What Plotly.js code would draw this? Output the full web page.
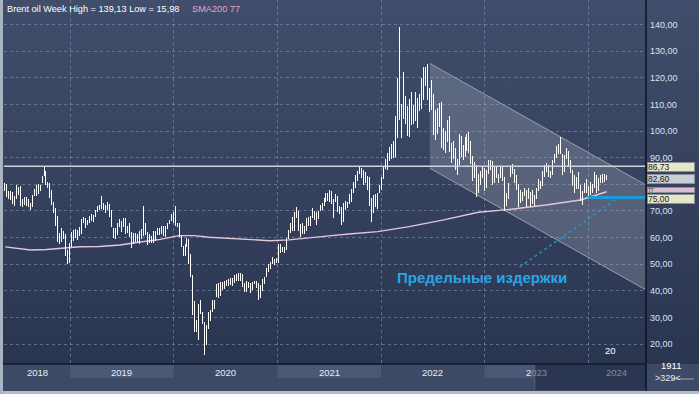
<!DOCTYPE html>
<html><head><meta charset="utf-8">
<script src="https://cdn.plot.ly/plotly-3.0.1.min.js"></script>
<style>
html,body{margin:0;padding:0;}
body{width:699px;height:394px;overflow:hidden;background:linear-gradient(180deg,#414e6b 0%,#2a3550 92%);}
#chart{width:699px;height:394px;}
#chart .scatterlayer .trace:nth-child(5) .js-line{shape-rendering:crispEdges;}
</style></head><body><div id="chart"></div><script>
// ---- data ----
const firstWeek = '2018-05-14';
const weekHigh = [
 // 2018
 80.5,80.2,77.5,77.4,77.0,75.7,79.9,78.9,79.4,74.5,75.2,75.3,74.6,73.0,75.9,78.1,79.7,80.1,79.6,83.0,86.7,84.8,81.0,80.6,77.9,73.4,71.2,67.9,61.8,63.7,62.6,61.3,55.4,
 // 2019
 58.0,62.2,63.0,63.1,63.0,63.8,66.8,67.8,67.3,66.7,68.1,68.7,68.6,70.3,71.9,72.3,75.6,73.0,72.1,73.2,72.6,70.3,63.4,63.4,65.3,67.0,66.3,67.5,67.2,64.4,65.5,62.0,61.8,61.8,61.3,62.5,63.3,71.95,65.3,62.0,61.5,60.6,62.3,62.4,63.5,63.4,64.2,64.3,64.5,65.6,66.7,68.7,
 // 2020
 69.5,71.75,65.6,65.6,60.6,56.9,57.6,59.8,59.5,53.9,45.9,36.0,29.0,35.0,36.4,32.2,28.2,27.0,31.9,32.9,36.5,36.4,42.4,43.1,43.3,43.2,43.6,44.0,44.5,44.8,44.8,46.0,46.2,46.5,46.6,46.4,42.8,43.8,43.2,43.0,43.4,43.8,43.6,42.8,42.2,44.3,45.2,48.7,49.9,50.8,52.5,51.9,52.2,
 // 2021
 57.4,57.4,56.6,56.6,59.8,62.8,65.5,67.7,69.6,71.4,70.0,65.0,65.4,64.5,67.4,67.7,68.1,71.2,70.0,69.5,69.8,72.3,73.1,75.0,76.6,76.6,77.8,77.3,74.5,76.3,75.6,72.0,71.5,72.8,73.6,73.3,76.2,78.3,80.8,83.5,85.1,86.7,86.1,85.5,84.6,83.0,82.7,74.9,76.1,76.2,76.6,79.7,
 // 2022
 82.8,86.7,89.5,91.7,94.0,95.0,96.2,105.8,119.8,139.13,110.0,122.0,113.0,109.4,112.1,114.8,109.9,114.5,112.3,113.9,120.0,124.0,124.0,125.2,116.0,119.2,114.0,108.0,108.5,110.7,111.0,101.0,99.9,104.0,105.6,95.5,96.1,93.6,89.4,98.8,98.0,94.7,97.8,98.9,99.5,96.2,90.5,88.5,87.4,83.8,85.1,86.4,
 // 2023
 86.0,85.3,89.1,89.1,88.8,86.9,86.9,84.0,86.8,86.8,82.8,76.9,80.4,86.4,87.5,85.9,83.3,80.0,77.7,77.2,78.6,77.7,78.7,77.2,77.7,75.9,78.7,81.8,81.1,84.9,87.1,88.1,87.2,84.9,89.2,91.2,94.3,95.1,97.7,91.5,91.0,93.8,92.4,89.0,85.5,83.3,82.9,84.6,79.7,77.4,80.6,81.9,
 // 2024
 79.2,80.8,80.0,84.5,83.4,82.4,83.6,84.0,84.0,83.5
];
const weekLow = [
 // 2018
 77.5,75.3,74.4,74.2,72.4,71.9,74.5,76.1,71.8,71.3,72.3,71.8,71.4,70.3,71.6,75.5,75.6,76.5,77.5,80.4,83.0,79.8,78.5,74.8,72.2,69.1,64.5,58.4,57.5,58.4,59.4,53.1,50.0,
 // 2019
 50.4,56.3,58.6,59.7,59.2,60.6,61.3,65.6,63.7,64.8,65.4,66.1,66.0,67.6,69.4,70.3,70.8,70.2,69.2,70.5,67.6,64.0,60.0,59.5,60.9,63.8,61.9,63.8,61.5,61.8,60.1,55.9,57.7,58.4,58.4,57.6,59.5,60.7,61.1,57.1,57.9,57.9,57.9,58.7,60.9,61.0,61.3,60.5,60.1,63.3,65.0,66.2,
 // 2020
 65.6,64.3,63.8,60.2,56.5,53.0,53.1,56.3,49.9,45.2,31.0,24.5,24.6,21.65,31.2,27.7,15.98,19.8,25.5,28.6,32.0,33.2,37.5,37.3,38.2,40.2,40.5,41.8,41.8,42.0,41.8,43.0,43.5,43.8,43.5,41.5,39.4,39.4,41.2,39.0,40.4,42.4,41.2,36.6,37.3,39.9,42.6,45.0,46.9,48.3,50.0,49.6,50.4,
 // 2021
 50.6,54.3,54.4,54.2,55.3,59.5,61.7,62.3,62.6,67.4,62.5,60.3,61.5,61.3,62.4,64.4,64.3,67.3,66.4,64.6,66.9,69.8,70.5,71.7,73.4,73.8,73.3,72.7,67.4,73.3,69.7,68.9,64.6,66.0,70.4,71.0,72.6,73.5,76.9,78.6,81.2,83.8,82.5,79.8,80.6,78.0,72.0,65.7,69.3,71.4,70.7,76.9,
 // 2022
 78.0,81.8,85.8,85.3,88.7,89.6,89.8,90.1,97.5,104.0,97.4,104.4,102.6,98.0,97.6,102.3,102.5,103.7,101.1,107.4,108.3,111.7,117.0,111.5,107.1,108.0,98.5,96.6,99.0,101.5,93.7,92.8,91.6,95.9,92.2,88.0,89.6,85.4,83.6,87.3,90.4,89.1,90.1,92.5,91.6,87.6,81.2,82.5,75.1,76.8,79.7,82.4,
 // 2023
 77.6,78.7,83.7,85.3,79.8,80.3,82.5,80.3,82.4,81.2,70.1,71.7,74.5,82.7,83.8,80.4,77.7,71.4,73.0,73.7,75.5,71.4,74.4,71.6,72.5,71.8,74.6,77.4,78.4,79.4,82.7,84.6,82.7,82.3,83.5,88.1,89.7,91.5,91.5,83.4,84.5,89.6,86.3,84.2,79.3,76.6,78.4,78.4,73.8,72.3,76.6,76.8,
 // 2024
 75.5,75.9,76.9,78.6,76.7,77.3,80.6,80.6,81.0,81.6
];
const smaDates = ['2018-05-17','2018-08-15','2018-10-10','2018-12-05','2019-02-05','2019-04-15','2019-06-25','2019-09-05','2019-11-15','2020-01-20','2020-03-15','2020-05-05','2020-07-15','2020-09-25','2020-12-05','2021-02-10','2021-04-20','2021-07-01','2021-09-10','2021-12-20','2022-04-10','2022-08-10','2022-12-10','2023-04-05','2023-08-05','2023-12-05','2024-03-06'];
const smaValues = [56.5,55.3,55.5,56.0,56.5,56.6,57.2,58.3,59.3,60.7,60.7,60.1,59.7,59.3,58.8,59.1,59.7,60.6,61.3,62.2,64.1,66.6,69.5,70.6,72.2,74.1,77.2];
const resistanceLevel = 86.73;
const lastPrice = 82.60;
const smaLast = 77;
const costLevel = 75.00;
const channelDates = ['2022-06-22','2024-07-23'];
const channelUpper = [125.4, 79.7];
const channelLower = [86.0, 40.3];
const costLineDates = ['2024-01-01','2024-07-23'];
const pointerDates = ['2023-05-05','2024-04-14'];
const pointerValues = [48.9, 74.8];
const yearStarts = ['2019-01-01','2020-01-01','2021-01-01','2022-01-01','2023-01-01','2024-01-01'];
const yearLabels = ['2018','2019','2020','2021','2022','2023','2024'];
const yearLabelDates = ['2018-09-08','2019-07-02','2020-07-02','2021-07-02','2022-07-02','2023-07-02','2024-04-11'];
const yTicks = [20,30,40,50,60,70,80,90,100,110,120,130,140];
// the 80,00 label is hidden behind the price boxes in the reference
const yTickText = ['20,00','30,00','40,00','50,00','60,00','70,00','','90,00','100,00','110,00','120,00','130,00','140,00'];
const xRange = ['2018-05-13','2024-07-23'];

// ---- build ----
const weekDates = [];
const t0 = Date.parse(firstWeek + 'T00:00:00Z');
for (let i = 0; i < weekHigh.length; i++) {
  weekDates.push(new Date(t0 + i * 7 * 864e5).toISOString().slice(0, 10));
}
const barX = [], barY = [];
weekDates.forEach((d, i) => { barX.push(d, d, null); barY.push(weekLow[i], weekHigh[i], null); });

const traces = [
  {type:'scatter', mode:'lines', x:[channelDates[0],channelDates[1],channelDates[1],channelDates[0]],
   y:[channelUpper[0],channelUpper[1],channelLower[1],channelLower[0]], fill:'toself',
   fillcolor:'rgba(190,198,212,0.25)', line:{width:0}, hoverinfo:'skip'},
  {type:'scatter', mode:'lines', x:channelDates, y:channelUpper, line:{color:'rgba(165,172,186,0.85)', width:1}, hoverinfo:'skip'},
  {type:'scatter', mode:'lines', x:channelDates, y:channelLower, line:{color:'rgba(165,172,186,0.85)', width:1}, hoverinfo:'skip'},
  {type:'scatter', mode:'lines', x:smaDates, y:smaValues, line:{color:'#e4c6da', width:1.4}, hoverinfo:'skip'},
  {type:'scatter', mode:'lines', x:barX, y:barY, line:{color:'#ffffff', width:1}, connectgaps:false, hoverinfo:'skip'},
  {type:'scatter', mode:'lines', x:pointerDates, y:pointerValues, line:{color:'#1f9ad8', width:1.3, dash:'dot'}, hoverinfo:'skip'},
  {type:'scatter', mode:'lines', x:costLineDates, y:[costLevel,costLevel], line:{color:'#1f9ad8', width:3}, hoverinfo:'skip', cliponaxis:false}
];

const W = 642, H = 364;
const px = v => v / W, py = v => v / H;
const grid = 'rgba(140,155,185,0.55)';
const shapes = [
  {type:'line', xref:'paper', yref:'y', x0:0, x1:1, y0:resistanceLevel, y1:resistanceLevel, line:{color:'#cdd2dc', width:1.5}},
  // x-axis strip
  {type:'rect', xref:'paper', yref:'paper', x0:px(-4), x1:1, y0:py(-27), y1:0, fillcolor:'#3d4a66', line:{width:0}},
  {type:'rect', xref:'x', yref:'paper', x0:'2019-01-01', x1:'2020-01-01', y0:py(-14), y1:py(-1), fillcolor:'#4b5875', line:{width:0}},
  {type:'rect', xref:'x', yref:'paper', x0:'2021-01-01', x1:'2022-01-01', y0:py(-14), y1:py(-1), fillcolor:'#4b5875', line:{width:0}},
  {type:'rect', xref:'x', yref:'paper', x0:'2023-01-01', x1:'2024-01-01', y0:py(-14), y1:py(-1), fillcolor:'#4b5875', line:{width:0}},
  {type:'rect', xref:'x', yref:'paper', x0:'2023-06-27', x1:xRange[1], y0:py(-26), y1:py(-1), fillcolor:'#2b3651', line:{width:0}},
  {type:'line', xref:'x', yref:'paper', x0:'2023-06-27', x1:'2023-06-27', y0:py(-26), y1:py(-1), line:{color:'#56627c', width:1}},
  {type:'line', xref:'paper', yref:'paper', x0:px(-4), x1:1, y0:0, y1:0, line:{color:'#111827', width:1.5}},
  // right panel bottom
  {type:'rect', xref:'paper', yref:'paper', x0:1, x1:1+px(53), y0:py(-27), y1:0, fillcolor:'#3d4a66', line:{width:0}},
  {type:'line', xref:'paper', yref:'paper', x0:1+px(26), x1:1+px(48), y0:py(-15), y1:py(-15), line:{color:'#9aa6ba', width:1}},
  {type:'line', xref:'paper', yref:'paper', x0:1, x1:1, y0:py(-27), y1:1, line:{color:'#0d1320', width:1.5}},
  // outer border
  {type:'rect', xref:'paper', yref:'paper', x0:px(-4), x1:1+px(53), y0:py(-30), y1:py(-27), fillcolor:'#b4bcc8', line:{width:0}},
  {type:'rect', xref:'paper', yref:'paper', x0:px(-4), x1:px(-1), y0:py(-30), y1:1, fillcolor:'#a9b3c2', line:{width:0}}
];

const boxFont = {size:9, color:'#1a1a1a', family:'Liberation Sans, Arial, sans-serif'};
const box = (val, txt, bg, h, fs, ys) => ({xref:'paper', yref:'y', x:1, y:val, xanchor:'left', yanchor:'middle', xshift:1, yshift:ys||0,
  text:txt, showarrow:false, bgcolor:bg, bordercolor:'#8a8f98', borderwidth:1, borderpad:0, width:46, height:h, align:'left',
  font:Object.assign({}, boxFont, {size:fs})});

const annotations = [
  {xref:'paper', yref:'paper', x:px(1), y:1-py(9), xanchor:'left', yanchor:'middle', showarrow:false,
   text:'Brent oil Week High = 139,13 Low = 15,98', font:{size:9.2, color:'#ffffff'}},
  {xref:'paper', yref:'paper', x:px(186), y:1-py(9), xanchor:'left', yanchor:'middle', showarrow:false,
   text:'SMA200 ' + smaLast, font:{size:9.2, color:'#e6a3c4'}},
  {xref:'x', yref:'y', x:'2022-12-22', y:44.8, showarrow:false, text:'Предельные издержки',
   font:{size:15, color:'#2aa5e6', family:'Liberation Sans, Arial, sans-serif', weight:'bold'}},
  {xref:'paper', yref:'paper', x:px(614), y:py(6), showarrow:false, text:'20', font:{size:9.5, color:'#ffffff'}},
  {xref:'paper', yref:'paper', x:1+px(37), y:py(-9), showarrow:false, text:'1911', font:{size:9.5, color:'#ffffff'}},
  {xref:'paper', yref:'paper', x:1+px(37), y:py(-21), showarrow:false, text:'&gt;329&lt;', font:{size:9, color:'#e6eaf0'}},
  box(smaLast, '77', '#d9c0d2', 4, 5, 2),
  box(resistanceLevel, '86,73', '#e6e6c8', 8, 8.5, -1),
  box(lastPrice, '82,60', '#c9cdd6', 8, 8.5, -1.5),
  box(costLevel, '75,00', '#e6e6c8', 8, 8.5, -1)
];
yearLabels.forEach((lab, i) => {
  let text = lab, color = '#e8ecf3';
  if (lab === '2023') text = "2<span style='color:#7f8ca5'>023</span>";
  if (lab === '2024') color = '#7f8ca5';
  annotations.push({xref:'x', yref:'paper', x:yearLabelDates[i], y:py(-8), yanchor:'middle', showarrow:false,
    text:text, font:{size:9.5, color:color}});
});

const layout = {
  width:699, height:394, margin:{l:4, r:53, t:0, b:30},
  paper_bgcolor:'rgba(0,0,0,0)', plot_bgcolor:'rgba(0,0,0,0)', showlegend:false,
  font:{family:'Liberation Sans, Arial, sans-serif', size:9, color:'#dfe5ef'},
  xaxis:{type:'date', range:xRange, tickvals:yearStarts, showticklabels:false, ticks:'',
    showgrid:true, gridcolor:grid, griddash:'3px,3px', gridwidth:1, zeroline:false, showline:false, fixedrange:true},
  yaxis:{side:'right', range:[12.49, 149.2], tickvals:yTicks, ticktext:yTickText, ticks:'',
    showgrid:true, gridcolor:grid, griddash:'3px,3px', gridwidth:1, zeroline:false, showline:false,
    tickfont:{size:9, color:'#dde3ee'}, ticklabelstandoff:3, fixedrange:true},
  shapes:shapes, annotations:annotations
};
Plotly.newPlot('chart', traces, layout, {staticPlot:true, displayModeBar:false});
</script></body></html>
